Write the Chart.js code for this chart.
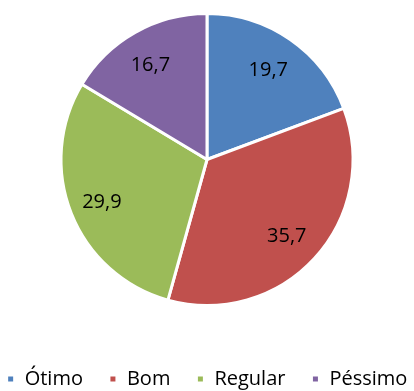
<!DOCTYPE html>
<html lang="pt">
<head>
    <meta charset="UTF-8">
    <title>Avaliação</title>
    <script src="https://cdn.jsdelivr.net/npm/chart.js"></script>
    <style>
        body, html {
            margin: 0;
            padding: 0;
            background: #fff;
            overflow: hidden;
        }
        #wrap {
            width: 414px;
            height: 391px;
        }
    </style>
</head>
<body>
    <div id="wrap"><canvas id="pieChart"></canvas></div>

    <script>
        const categories = ['Ótimo', 'Bom', 'Regular', 'Péssimo'];
        const values = [19.7, 35.7, 29.9, 16.7];
        const colors = ['#4F81BD', '#C0504D', '#9BBB59', '#8064A2'];

        const fontFamily = '"Open Sans", "Liberation Sans", sans-serif';

        // draws the value of each slice inside it, with a decimal comma
        const sliceLabels = {
            id: 'sliceLabels',
            afterDatasetsDraw(chart) {
                const ctx = chart.ctx;
                const meta = chart.getDatasetMeta(0);
                ctx.save();
                ctx.font = '20px ' + fontFamily;
                ctx.fillStyle = '#000';
                ctx.textAlign = 'center';
                ctx.textBaseline = 'middle';
                meta.data.forEach((arc, i) => {
                    const p = arc.getProps(['x', 'y', 'startAngle', 'endAngle', 'outerRadius'], true);
                    const mid = (p.startAngle + p.endAngle) / 2;
                    const r = p.outerRadius * 0.76;
                    const text = values[i].toFixed(1).replace('.', ',');
                    ctx.fillText(text, p.x - 2 + Math.cos(mid) * r, p.y + 2 + Math.sin(mid) * r);
                });
                ctx.restore();
            }
        };

        new Chart(document.getElementById('pieChart'), {
            type: 'pie',
            data: {
                labels: categories,
                datasets: [{
                    data: values,
                    backgroundColor: colors,
                    borderColor: '#fff',
                    borderWidth: 3
                }]
            },
            options: {
                responsive: true,
                maintainAspectRatio: false,
                animation: false,
                layout: {
                    // negative sides so the one-row legend is not wrapped
                    padding: { top: 12, bottom: -8, left: -40, right: -40 }
                },
                plugins: {
                    tooltip: { enabled: false },
                    legend: {
                        position: 'bottom',
                        title: {
                            display: true,
                            text: ' ',
                            font: { size: 10 },
                            padding: { top: 24, bottom: 0 }
                        },
                        labels: {
                            boxWidth: 8,
                            boxHeight: 8,
                            padding: 26,
                            color: '#000',
                            font: { family: fontFamily, size: 20 }
                        }
                    }
                }
            },
            plugins: [sliceLabels]
        });
    </script>
</body>
</html>
